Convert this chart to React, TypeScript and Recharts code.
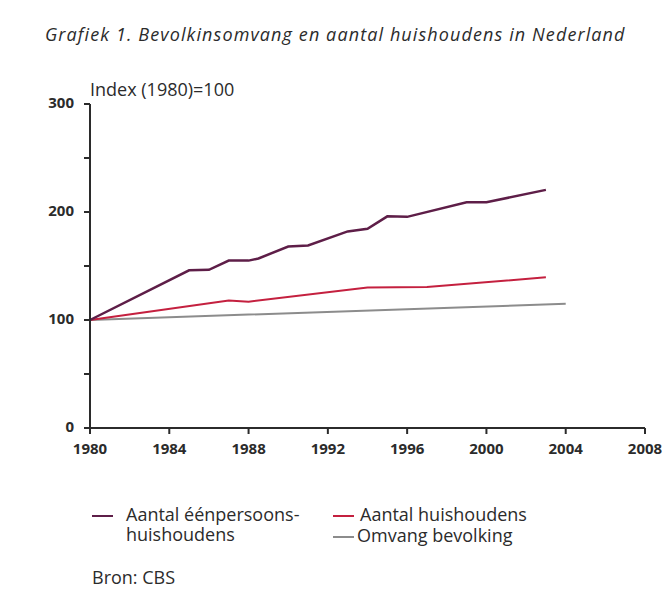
import React from 'react';
import { LineChart, Line, XAxis, YAxis } from 'recharts';

const YEAR_TICKS = [1980, 1984, 1988, 1992, 1996, 2000, 2004, 2008];
const INDEX_TICKS = [0, 50, 100, 150, 200, 250, 300];
const LABELED_INDEX = [0, 100, 200, 300];

// Aantal éénpersoonshuishoudens
const onePerson = [
  { year: 1980, value: 100 },
  { year: 1985, value: 146 },
  { year: 1986, value: 146.5 },
  { year: 1987, value: 155 },
  { year: 1988, value: 155 },
  { year: 1988.5, value: 157 },
  { year: 1990, value: 168 },
  { year: 1991, value: 169 },
  { year: 1993, value: 182 },
  { year: 1994, value: 184.5 },
  { year: 1995, value: 196 },
  { year: 1996, value: 195.5 },
  { year: 1999, value: 209 },
  { year: 2000, value: 209 },
  { year: 2003, value: 220.5 },
];

// Aantal huishoudens
const households = [
  { year: 1980, value: 100 },
  { year: 1987, value: 118 },
  { year: 1988, value: 117 },
  { year: 1994, value: 130 },
  { year: 1997, value: 130.5 },
  { year: 2003, value: 139.5 },
];

// Omvang bevolking
const population = [
  { year: 1980, value: 100 },
  { year: 1988, value: 105 },
  { year: 1996, value: 110 },
  { year: 2004, value: 115 },
];

const FONT = '"Open Sans", "DejaVu Sans", sans-serif';
const INK = '#2b2b2b';
const PURPLE = '#5e1e48';
const RED = '#c4203f';
const GREY = '#8c8c8c';

const YTick = (props: any) => {
  const { x, y, payload } = props;
  if (!LABELED_INDEX.includes(payload.value)) return null;
  return (
    <text x={x - 8} y={y} dy={4} textAnchor="end" fontFamily={FONT} fontWeight={700} fontSize={15} fill={INK}>
      {payload.value}
    </text>
  );
};

const Swatch = ({ color, gap }: { color: string; gap: number }) => (
  <div style={{ width: 21, height: 2, background: color, marginTop: 11, marginRight: gap, flexShrink: 0 }} />
);

export default function App() {
  return (
    <div style={{ position: 'absolute', left: 0, top: 0, width: 668, height: 589, background: '#fff', fontFamily: FONT, color: INK }}>
      <div style={{ position: 'absolute', left: 45, top: 22, fontSize: 18, letterSpacing: 1.1, fontStyle: 'italic', whiteSpace: 'nowrap' }}>
        Grafiek 1. Bevolkinsomvang en aantal huishoudens in Nederland
      </div>
      <div style={{ position: 'absolute', left: 90, top: 77, fontSize: 18, whiteSpace: 'nowrap' }}>
        Index (1980)=100
      </div>

      <div style={{ position: 'absolute', left: 0, top: 0 }}>
        <LineChart width={668} height={589} margin={{ top: 104, right: 23, left: 0, bottom: 0 }}>
          <XAxis
            dataKey="year"
            type="number"
            domain={[1980, 2008]}
            ticks={YEAR_TICKS}
            allowDuplicatedCategory={false}
            height={161}
            stroke={INK}
            strokeWidth={2}
            tickSize={6}
            tickMargin={9}
            interval={0}
            tick={{ fontFamily: FONT, fontWeight: 700, fontSize: 15, fill: INK }}
          />
          <YAxis
            type="number"
            domain={[0, 300]}
            ticks={INDEX_TICKS}
            interval={0}
            width={90}
            stroke={INK}
            strokeWidth={2}
            tickSize={6}
            tick={<YTick />}
          />
          <Line data={population} dataKey="value" stroke={GREY} strokeWidth={2} dot={false} isAnimationActive={false} />
          <Line data={households} dataKey="value" stroke={RED} strokeWidth={2} dot={false} isAnimationActive={false} />
          <Line data={onePerson} dataKey="value" stroke={PURPLE} strokeWidth={2.5} dot={false} isAnimationActive={false} />
        </LineChart>
      </div>

      <div style={{ fontSize: 18, lineHeight: '20px' }}>
        <div style={{ position: 'absolute', left: 92, top: 504, display: 'flex', alignItems: 'flex-start' }}>
          <Swatch color={PURPLE} gap={13} />
          <div style={{ whiteSpace: 'nowrap' }}>Aantal éénpersoons-<br />huishoudens</div>
        </div>
        <div style={{ position: 'absolute', left: 333, top: 504, display: 'flex', alignItems: 'flex-start' }}>
          <Swatch color={RED} gap={6} />
          <div style={{ whiteSpace: 'nowrap' }}>Aantal huishoudens</div>
        </div>
        <div style={{ position: 'absolute', left: 333, top: 525, display: 'flex', alignItems: 'flex-start' }}>
          <Swatch color={GREY} gap={3} />
          <div style={{ whiteSpace: 'nowrap' }}>Omvang bevolking</div>
        </div>
      </div>

      <div style={{ position: 'absolute', left: 92, top: 566, fontSize: 18, lineHeight: '22px' }}>Bron: CBS</div>
    </div>
  );
}
